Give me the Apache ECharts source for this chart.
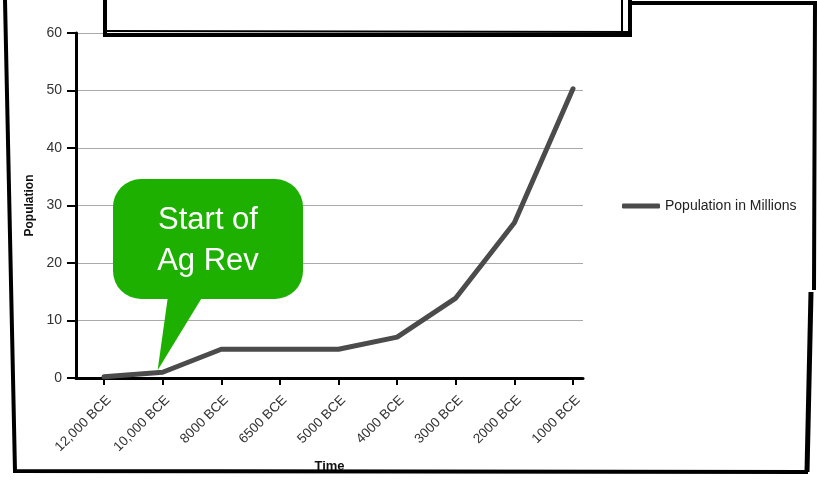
<!DOCTYPE html>
<html>
<head>
<meta charset="utf-8">
<script src="https://cdn.jsdelivr.net/npm/echarts@6/dist/echarts.min.js"></script>
<style>
  html, body { margin: 0; padding: 0; background: #fff; }
  #chart { width: 817px; height: 485px; }
</style>
</head>
<body>
<div id="chart"></div>
<script>
// data
const periods = ['12,000 BCE', '10,000 BCE', '8000 BCE', '6500 BCE', '5000 BCE', '4000 BCE', '3000 BCE', '2000 BCE', '1000 BCE'];
const population = [0.2, 1, 5, 5, 5, 7.1, 13.9, 27, 50.3];
const yTicks = [0, 10, 20, 30, 40, 50, 60];
const seriesName = 'Population in Millions';
const calloutLines = ['Start of', 'Ag Rev'];
const calloutIndex = 1;

const font = 'Liberation Sans, Arial, Helvetica, sans-serif';
const chart = echarts.init(document.getElementById('chart'));

// sketchy frame around the screenshot
const frame = [
    { type: 'polyline', shape: { points: [[5, 0], [15, 471], [808, 472]] },
      style: { stroke: '#000', lineWidth: 4, fill: null }, z: 50 },
    { type: 'polyline', shape: { points: [[632, 3], [815, 3], [814, 290]] },
      style: { stroke: '#000', lineWidth: 4, fill: null }, z: 50 },
    { type: 'polyline', shape: { points: [[811, 292], [807, 472]] },
      style: { stroke: '#000', lineWidth: 5, fill: null }, z: 50 },
    // title box, cut off at the top
    { type: 'polygon', shape: { points: [[105, -6], [105, 35], [630, 35], [630, -6]] },
      style: { stroke: '#000', lineWidth: 4, fill: '#fff' }, z: 50 },
    { type: 'line', shape: { x1: 103, y1: 31, x2: 628, y2: 32 },
      style: { stroke: '#000', lineWidth: 2 }, z: 51 },
    { type: 'line', shape: { x1: 622, y1: 0, x2: 622, y2: 32 },
      style: { stroke: '#000', lineWidth: 2 }, z: 51 }
];

chart.setOption({
    animation: false,
    textStyle: { fontFamily: font },
    legend: {
        data: [seriesName],
        left: 622,
        top: 199,
        padding: 0,
        icon: 'roundRect',
        itemWidth: 38,
        itemHeight: 5,
        textStyle: { fontSize: 14, color: '#222', fontFamily: font }
    },
    grid: [
        { left: 76, right: 234, top: 33, bottom: 107 },
        { left: 104, right: 244, top: 33, bottom: 107 }
    ],
    xAxis: [
        {
            gridIndex: 0, type: 'value', min: 0, max: 1,
            name: 'Time', nameLocation: 'middle', nameGap: 82,
            nameTextStyle: { fontWeight: 'bold', fontSize: 13, color: '#111', fontFamily: font },
            axisLine: { show: true, lineStyle: { color: '#000', width: 3 } },
            axisTick: { show: false }, axisLabel: { show: false }, splitLine: { show: false }
        },
        {
            gridIndex: 1, type: 'category', data: periods, boundaryGap: false,
            axisLine: { show: false },
            axisTick: { show: true, length: 7, lineStyle: { color: '#000', width: 2 } },
            axisLabel: { rotate: 45, fontSize: 13.5, color: '#333', margin: 15, verticalAlign: 'top', fontFamily: font },
            splitLine: { show: false }
        }
    ],
    yAxis: [
        {
            gridIndex: 0, type: 'value', min: yTicks[0], max: yTicks[yTicks.length - 1], interval: 10,
            name: 'Population', nameLocation: 'middle', nameGap: 40, nameRotate: 90,
            nameTextStyle: { fontWeight: 'bold', fontSize: 12, color: '#111', fontFamily: font },
            axisLine: { show: true, lineStyle: { color: '#000', width: 3 } },
            axisTick: { show: true, length: 9, lineStyle: { color: '#000', width: 2 } },
            axisLabel: { fontSize: 14, color: '#333', margin: 14, fontFamily: font },
            splitLine: { show: true, lineStyle: { color: '#aaa', width: 1 } }
        },
        {
            gridIndex: 1, type: 'value', min: yTicks[0], max: yTicks[yTicks.length - 1], show: false,
            splitLine: { show: false }
        }
    ],
    series: [{
        name: seriesName,
        type: 'line',
        xAxisIndex: 1,
        yAxisIndex: 1,
        data: population,
        showSymbol: false,
        symbol: 'none',
        lineStyle: { color: '#4b4b4b', width: 5, cap: 'round', join: 'round' },
        itemStyle: { color: '#4b4b4b' },
        z: 3
    }],
    graphic: frame
});

// green speech bubble pointing at the start of the agricultural revolution
const tip = chart.convertToPixel({ seriesIndex: 0 }, [calloutIndex, population[calloutIndex]]);
const green = '#1db000';
chart.setOption({
    graphic: frame.concat([
        { type: 'polygon', shape: { points: [[168, 296], [203, 296], [tip[0] - 5, tip[1] - 2]] },
          style: { fill: green }, z: 60 },
        { type: 'rect', shape: { x: 113, y: 179, width: 190, height: 120, r: 28 },
          style: { fill: green }, z: 60 },
        { type: 'text', x: 208, y: 220,
          style: { text: calloutLines[0], fill: '#fff', font: '31px ' + font, align: 'center', verticalAlign: 'middle' }, z: 61 },
        { type: 'text', x: 208, y: 261,
          style: { text: calloutLines[1], fill: '#fff', font: '31px ' + font, align: 'center', verticalAlign: 'middle' }, z: 61 }
    ])
});
</script>
</body>
</html>
